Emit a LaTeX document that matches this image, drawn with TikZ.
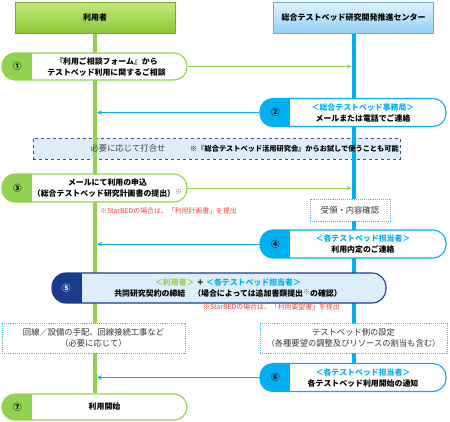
\documentclass[tikz,border=0pt]{standalone}
\usepackage{fontspec}
\setmainfont{Noto Sans CJK JP}
\usepackage{xcolor}
\usetikzlibrary{arrows.meta}
\pgfdeclarelayer{background}
\pgfsetlayers{background,main}

\definecolor{ugreen}{RGB}{146,208,80}
\definecolor{tbblue}{RGB}{0,176,240}
\definecolor{navy}{RGB}{27,60,140}
\definecolor{nred}{RGB}{255,60,60}
\definecolor{paleblue}{RGB}{221,238,251}
\definecolor{meetfill}{RGB}{222,236,248}
\definecolor{meetline}{RGB}{47,80,160}

\tikzset{
  headG/.style={draw={rgb,255:red,115;green,170;blue,50}, line width=0.8pt,
    top color={rgb,255:red,196;green,234;blue,120}, bottom color={rgb,255:red,138;green,198;blue,58},
    minimum width=160pt, minimum height=31pt, font=\bfseries\fontsize{8}{10}\selectfont},
  headB/.style={draw={rgb,255:red,110;green,170;blue,220}, line width=0.8pt,
    top color={rgb,255:red,224;green,242;blue,255}, bottom color={rgb,255:red,150;green,207;blue,245},
    minimum width=160pt, minimum height=31pt, font=\bfseries\fontsize{8}{10}\selectfont},
  stepbox/.style={draw=#1, line width=1.1pt, fill=white, rounded corners=13pt,
    minimum height=28pt, inner sep=0pt,
    path picture={\fill[#1, sharp corners] (path picture bounding box.north west)
      rectangle ([xshift=30pt]path picture bounding box.south west);}},
  stxt/.style={font=\bfseries\fontsize{7.9}{11}\selectfont, align=center, inner sep=0pt},
  num/.style={font=\bfseries\fontsize{8.5}{10}\selectfont, inner sep=0pt},
  arr/.style={draw=#1, line width=0.9pt, -{Stealth[length=5pt,width=4.5pt]}, shorten >=2pt},
  lifeline/.style={draw=#1, line width=4pt},
  dotbox/.style={draw=tbblue!80, densely dotted, line width=0.9pt, fill=white, inner sep=0pt},
  dtxt/.style={font=\fontsize{8.3}{11.5}\selectfont, text=black!80, align=center, inner sep=0pt},
  note/.style={font=\fontsize{6.9}{8}\selectfont, text=nred, inner sep=0pt}
}

\begin{document}
\begin{tikzpicture}[x=1pt,y=-1pt]
\useasboundingbox (0,0) rectangle (450,421);

% headers
\node[headG] (user) at (95,17.5) {利用者};
\node[headB] (center) at (353.5,17.5) {総合テストベッド研究開発推進センター};

% 1
\node[stepbox=ugreen, minimum width=185pt, minimum height=27pt] (s1) at (94.5,66.5) {};
\node[num] (n1) at ([xshift=16]s1.west) {①};
\node[stxt] (t1) at ([xshift=12]s1.center) {『利用ご相談フォーム』から\\テストベッド利用に関するご相談};

% 2
\node[stepbox=tbblue, minimum width=186pt] (s2) at (353,112.5) {};
\node[num] (n2) at ([xshift=16]s2.west) {②};
\node[stxt] (t2) at ([xshift=10]s2.center) {\textcolor{tbblue}{＜総合テストベッド事務局＞}\\メールまたは電話でご連絡};

% 3
\node[stepbox=ugreen, minimum width=185pt] (s3) at (94.5,188) {};
\node[num] (n3) at ([xshift=16]s3.west) {③};
\node[stxt] (t3) at ([xshift=13]s3.center) {メールにて利用の申込\\（総合テストベッド研究計画書の提出）\textcolor{nred}{\raisebox{2pt}{\scriptsize ※}}};
\node[note, anchor=west] (r3) at (100,211) {※StarBEDの場合は、「利用計画書」を提出};
\node[dotbox, minimum width=80pt, minimum height=22pt] (recv) at (350,210) {};
\node[dtxt] (rt) at (recv.center) {受領・内容確認};

% 4
\node[stepbox=tbblue, minimum width=186pt] (s4) at (353,244) {};
\node[num] (n4) at ([xshift=16]s4.west) {④};
\node[stxt] (t4) at ([xshift=10]s4.center) {\textcolor{tbblue}{＜各テストベッド担当者＞}\\利用内定のご連絡};

% 5
\node[stepbox=navy, fill=paleblue, rounded corners=14pt, minimum width=334pt, minimum height=30pt] (s5) at (219,288) {};
\node[num, text=white] (n5) at ([xshift=15]s5.west) {⑤};
\node[stxt] (t5) at ([xshift=9]s5.center) {\textcolor{ugreen}{＜利用者＞} ＋ \textcolor{tbblue}{＜各テストベッド担当者＞}\\
  共同研究契約の締結　（場合によっては追加書類提出\textcolor{nred}{\raisebox{2pt}{\scriptsize ※}}の確認）};
\node[note, anchor=west] (r5) at (203,307) {※StarBEDの場合は、「利用要望書」を提出};

% preparation
\node[dotbox, minimum width=183pt, minimum height=30pt] (prepL) at (93.5,338) {};
\node[dtxt] (pl) at (prepL.center) {回線／設備の手配、回線接続工事など\\（必要に応じて）};
\node[dotbox, minimum width=187pt, minimum height=30pt] (prepR) at (353.5,338) {};
\node[dtxt] (pr) at (prepR.center) {テストベッド側の設定\\（各種要望の調整及びリソースの割当も含む）};

% 6
\node[stepbox=tbblue, minimum width=186pt] (s6) at (353,377.5) {};
\node[num] (n6) at ([xshift=16]s6.west) {⑥};
\node[stxt] (t6) at ([xshift=10]s6.center) {\textcolor{tbblue}{＜各テストベッド担当者＞}\\各テストベッド利用開始の通知};

% 7
\node[stepbox=ugreen, minimum width=185pt, minimum height=26pt] (s7) at (94.5,407) {};
\node[num] (n7) at ([xshift=16]s7.west) {⑦};
\node[stxt] (t7) at ([xshift=10]s7.center) {利用開始};

% lifelines and meeting
\coordinate (ll) at (user.south);
\coordinate (rl) at (center.south);
\begin{pgfonlayer}{background}
\node[draw=meetline, dashed, line width=0.9pt, fill=meetfill, minimum width=367pt, minimum height=21pt] (meet) at (216.5,148.5) {};
\draw[lifeline=ugreen] (user.south) -- (ll |- s7.north);
\draw[lifeline=tbblue] (center.south) -- (rl |- s6.north);
\end{pgfonlayer}
\node[font=\fontsize{8.3}{10}\selectfont, text=black!75, inner sep=0pt] (m1) at (128,148.5) {必要に応じて打合せ};
\node[font=\bfseries\fontsize{7.2}{9}\selectfont, anchor=west, inner sep=0pt] (m2) at (190,148.5) {※『総合テストベッド活用研究会』からお試しで使うことも可能};

% messages
\draw[arr=ugreen] (s1.east) -- (s1.east -| rl);
\draw[arr=tbblue] (s2.west) -- (s2.west -| ll);
\draw[arr=ugreen] (s3.east) -- (s3.east -| rl);
\draw[arr=tbblue] (s4.west) -- (s4.west -| ll);
\draw[arr=tbblue] (s6.west) -- (s6.west -| ll);
\end{tikzpicture}
\end{document}
